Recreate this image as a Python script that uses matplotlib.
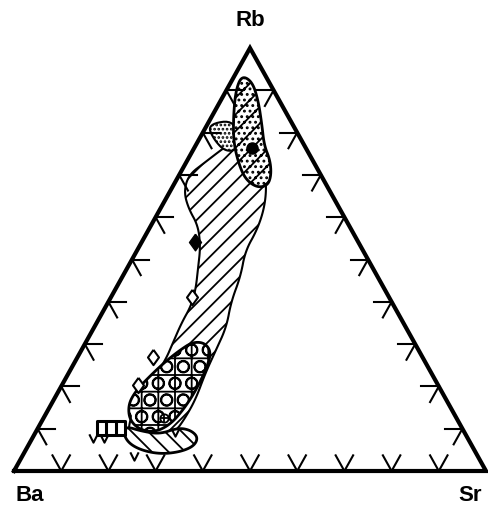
import numpy as np
import matplotlib
matplotlib.use('Agg')
import matplotlib.pyplot as plt
from matplotlib.patches import Polygon
from matplotlib.path import Path

# datos: composiciones en % (Rb, Sr); Ba = 100 - Rb - Sr
band_rb = [76, 73, 70, 66, 62, 58, 53, 48, 43, 39, 35, 30.5, 26, 21.5, 17, 12, 8.5,
           7, 9, 12.5, 17, 23, 28.5, 34, 40, 46, 52, 57, 62, 67, 72, 78, 78]
band_sr = [6, 4, 2, 3, 6, 10, 13, 15, 17, 18, 18, 18.5, 19, 18.5, 18, 18.5, 20,
           25, 29.5, 30, 30, 29, 28.5, 28, 26, 25, 23, 23, 22, 20, 17, 11, 7.5]

stip_rb = [82, 83, 76, 75.5, 78.5]
stip_sr = [0, 5.5, 9.5, 7, 3]

ell_rb = [93.5, 92, 87.5, 82, 77, 73.5, 70, 67.5, 67, 69, 73, 78, 84, 90]
ell_sr = [1.5, 4.5, 8, 11.5, 14.5, 17.5, 19.5, 20, 18, 14.5, 11, 7.5, 4.5, 2]

circ_rb = [30.3, 28, 24, 18.7, 14.4, 11, 9.2, 9.7, 12, 15.6, 18.7, 22, 25.8, 28.6, 30.5]
circ_sr = [25.3, 27.8, 28.7, 29, 28.6, 27.6, 25.3, 21.9, 18.5, 16.4, 16.3, 17.4, 19.1, 20.9, 22.6]

low_rb = [9.7, 6.9, 5, 4, 4.5, 5.9, 8, 9.7, 10.2, 8.7, 9.5, 10.4]
low_sr = [18.2, 20.5, 24.2, 28.9, 32.9, 35.2, 35, 32.5, 29.6, 26.5, 22, 19]

# simbolos
dia_rb = [41.1, 27, 20.3]
dia_sr = [17.2, 15.9, 16.1]
fdia_rb = [54.1]
fdia_sr = [11.3]
v_rb = [7.8, 7.8, 3.5, 9.2]
v_sr = [12.8, 15.2, 23.7, 29.5]
cross_rb = [12.5]
cross_sr = [25.5]
caps_rb = [10.2]
caps_sr = [15.5]
blob_rb = [76.4]
blob_sr = [12.2]

ticks = [10, 20, 30, 40, 50, 60, 70, 80, 90]


def proj(rb, sr):
    rb = np.asarray(rb, float) / 100
    sr = np.asarray(sr, float) / 100
    return sr + rb / 2, rb


def suave(x, y, n=3):
    p = np.column_stack([x, y])
    for _ in range(n):
        q = np.roll(p, -1, axis=0)
        p = np.column_stack([0.75 * p + 0.25 * q, 0.25 * p + 0.75 * q]).reshape(-1, 2)
    return p


plt.rcParams['hatch.linewidth'] = 1.3

fig = plt.figure(figsize=(4.89, 5.13), dpi=100)
ax = fig.add_axes([14 / 489, 42 / 513, 472 / 489, 423 / 513])
ax.set_xlim(0, 1)
ax.set_ylim(0, 1)
ax.axis('off')


def campo(rb, sr, hatch, z, lw=1.5):
    x, y = proj(rb, sr)
    pts = suave(x, y)
    ax.add_patch(Polygon(pts, closed=True, facecolor='white', edgecolor='black',
                         lw=lw, hatch=hatch, zorder=z))


campo(band_rb, band_sr, '//', 2)
campo(low_rb, low_sr, '\\\\', 3, lw=2)
campo(circ_rb, circ_sr, 'O+', 4, lw=2)
campo(stip_rb, stip_sr, '....', 4)
campo(ell_rb, ell_sr, '//...', 5, lw=2)

# triangulo
tx, ty = proj([0, 0, 100, 0], [0, 100, 0, 0])
ax.plot(tx, ty, color='black', lw=3, solid_joinstyle='miter', clip_on=False, zorder=6)

L = 3.7
for t in ticks:
    # base
    for rb2, sr2 in [(L, t), (L, t - L)]:
        x, y = proj([0, rb2], [t, sr2])
        ax.plot(x, y, color='black', lw=1.5, clip_on=False, zorder=6)
    # lado izquierdo
    for rb2, sr2 in [(t, L), (t - L, L)]:
        x, y = proj([t, rb2], [0, sr2])
        ax.plot(x, y, color='black', lw=1.5, clip_on=False, zorder=6)
    # lado derecho
    for rb2, sr2 in [(t, 100 - t - L), (t - L, 100 - t)]:
        x, y = proj([t, rb2], [100 - t, sr2])
        ax.plot(x, y, color='black', lw=1.5, clip_on=False, zorder=6)

diamante = [(0, 1), (0.72, 0), (0, -1), (-0.72, 0), (0, 1)]
x, y = proj(dia_rb, dia_sr)
ax.plot(x, y, ls='none', marker=diamante, ms=11, mfc='white', mec='black', mew=1.5, zorder=7)
x, y = proj(fdia_rb, fdia_sr)
ax.plot(x, y, ls='none', marker=diamante, ms=12, mfc='black', mec='black', zorder=7)

v_path = Path([(-1, 1), (0, -1), (1, 1)], [Path.MOVETO, Path.LINETO, Path.LINETO])
x, y = proj(v_rb, v_sr)
ax.plot(x, y, ls='none', marker=v_path, ms=6, mfc='none', mec='black', mew=1.5, zorder=7)

x, y = proj(cross_rb, cross_sr)
ax.plot(x, y, ls='none', marker='o', ms=6, mfc='white', mec='black', mew=1.3, zorder=7)
ax.plot(x, y, ls='none', marker='+', ms=6, mec='black', mew=1.3, zorder=8)

caps = Path([(-1.5, -0.8), (1.5, -0.8), (1.5, 0.8), (-1.5, 0.8), (-1.5, -0.8),
             (-0.5, -0.8), (-0.5, 0.8), (0.5, -0.8), (0.5, 0.8)],
            [Path.MOVETO, Path.LINETO, Path.LINETO, Path.LINETO, Path.CLOSEPOLY,
             Path.MOVETO, Path.LINETO, Path.MOVETO, Path.LINETO])
x, y = proj(caps_rb, caps_sr)
ax.plot(x, y, ls='none', marker=caps, ms=20, mfc='white', mec='black', mew=2.2,
        zorder=7)

x, y = proj(blob_rb, blob_sr)
ax.plot(x, y, ls='none', marker='o', ms=8, mfc='black', mec='black', zorder=7)

fuente = dict(fontsize=16, fontweight='bold', family=['Liberation Sans', 'DejaVu Sans'],
              ha='center', va='center')
ax.text(0.5, 1.066, 'Rb', **fuente)
ax.text(0.034, -0.057, 'Ba', **fuente)
ax.text(0.966, -0.057, 'Sr', **fuente)

plt.savefig('out.png', dpi=100)
